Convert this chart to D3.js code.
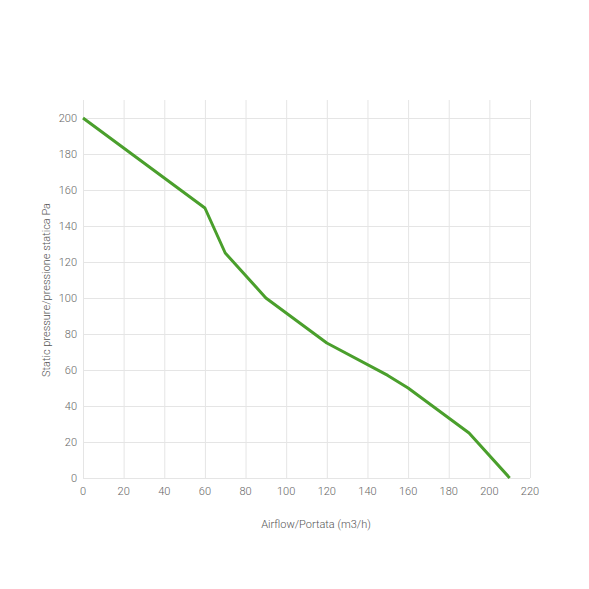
<!DOCTYPE html>
<html>
<head>
<meta charset="utf-8">
<script src="https://cdn.jsdelivr.net/npm/d3@7"></script>
<style>
	body { margin: 0; background: #fff; }
	text { font-family: Roboto, "Open Sans", sans-serif; font-weight: 300; }
</style>
</head>
<body>
<div id="chart"></div>
<script>
// curve
const airflow = [0, 30, 60, 70, 90, 120, 150, 160, 190, 210];
const pressure = [200, 175, 150, 125, 100, 75, 57, 50, 25, 0];
const xTicks = [0, 20, 40, 60, 80, 100, 120, 140, 160, 180, 200, 220];
const yTicks = [0, 20, 40, 60, 80, 100, 120, 140, 160, 180, 200];

const width = 589, height = 589;
const margin = { top: 100, right: 59, bottom: 111, left: 83 };

const svg = d3.select("#chart").append("svg")
	.attr("width", width)
	.attr("height", height);

const x = d3.scaleLinear().domain([0, 220]).range([margin.left, width - margin.right]);
const y = d3.scaleLinear().domain([0, 210]).range([height - margin.bottom, margin.top]);

const grid = svg.append("g").attr("class", "grid");

grid.selectAll("line.v")
	.data(xTicks)
	.enter()
	.append("line")
	.attr("class", "v")
	.attr("x1", (d) => x(d) + 0.5)
	.attr("x2", (d) => x(d) + 0.5)
	.attr("y1", y(210))
	.attr("y2", y(0))
	.attr("stroke", "#e5e5e5")
	.attr("stroke-width", 1);

grid.selectAll("line.h")
	.data(yTicks)
	.enter()
	.append("line")
	.attr("class", "h")
	.attr("x1", x(0))
	.attr("x2", x(220))
	.attr("y1", (d) => y(d) + 0.5)
	.attr("y2", (d) => y(d) + 0.5)
	.attr("stroke", "#e5e5e5")
	.attr("stroke-width", 1);

svg.append("g")
	.selectAll("text")
	.data(xTicks)
	.enter()
	.append("text")
	.attr("x", (d) => x(d))
	.attr("y", y(0) + 17)
	.attr("text-anchor", "middle")
	.attr("font-size", 11)
	.attr("fill", "#666")
	.text((d) => d);

svg.append("g")
	.selectAll("text")
	.data(yTicks)
	.enter()
	.append("text")
	.attr("x", x(0) - 6)
	.attr("y", (d) => y(d) + 4)
	.attr("text-anchor", "end")
	.attr("font-size", 11)
	.attr("fill", "#666")
	.text((d) => d);

const points = airflow.map((a, i) => [a, pressure[i]]);

svg.append("path")
	.datum(points)
	.attr("fill", "none")
	.attr("stroke", "#4a9f2c")
	.attr("stroke-width", 3)
	.attr("stroke-linejoin", "round")
	.attr("d", d3.line().x((d) => x(d[0])).y((d) => y(d[1])));

svg.append("text")
	.attr("x", 316)
	.attr("y", 528)
	.attr("text-anchor", "middle")
	.attr("font-size", 11)
	.attr("fill", "#555")
	.text("Airflow/Portata (m3/h)");

svg.append("text")
	.attr("transform", "translate(50," + 290 + ") rotate(-90)")
	.attr("text-anchor", "middle")
	.attr("font-size", 11)
	.attr("fill", "#555")
	.text("Static pressure/pressione statica Pa");
</script>
</body>
</html>
